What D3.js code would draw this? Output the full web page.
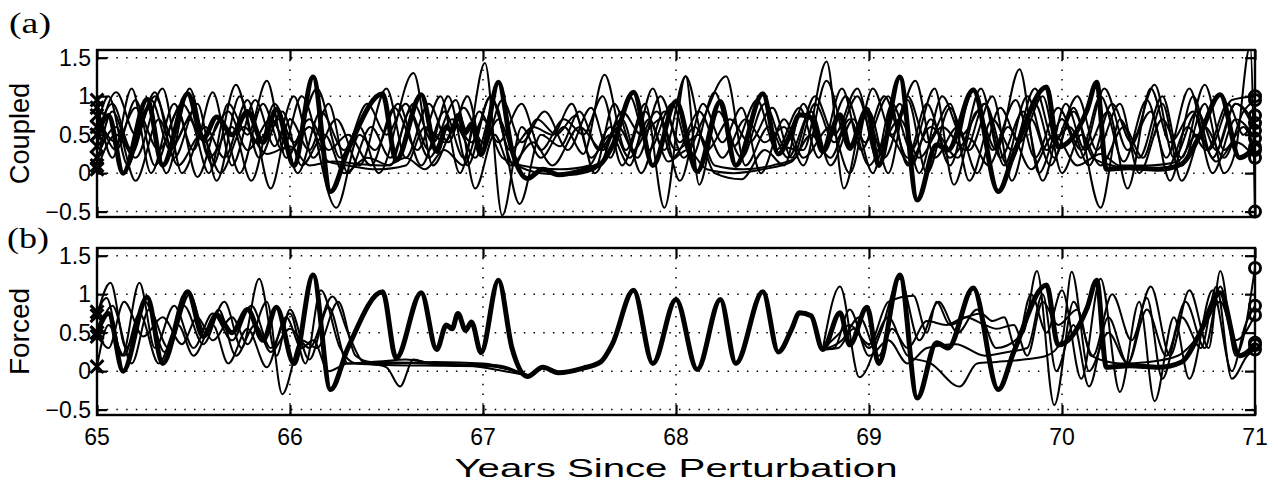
<!DOCTYPE html>
<html>
<head>
<meta charset="utf-8">
<script src="https://cdn.jsdelivr.net/npm/d3@7"></script>
<style>
  body { margin: 0; background: #fff; }
  svg { display: block; }
  text { font-family: "Liberation Sans", Arial, sans-serif; fill: #000; }
</style>
</head>
<body>
<div id="chart"></div>
<script>
// ---- data (years since perturbation, value) ----
const xTicks = [65, 66, 67, 68, 69, 70, 71];
const yTicks = [-0.5, 0, 0.5, 1, 1.5];

// thick run, shared by both panels
const thickRun = [[65.00,0.5],[65.06,0.75],[65.135,0.0],[65.26,0.96],[65.34,0.1],[65.47,1.03],[65.55,0.45],[65.62,0.73],[65.7,0.5],[65.78,0.8],[65.86,0.4],[65.93,0.83],[66.02,0.1],[66.12,1.25],[66.21,-0.24],[66.3,0.3],[66.48,1.03],[66.55,0.17],[66.68,1.02],[66.76,0.28],[66.81,0.6],[66.84,0.55],[66.87,0.75],[66.91,0.53],[66.94,0.64],[66.99,0.24],[67.08,1.18],[67.15,0.3],[67.23,-0.07],[67.31,0.05],[67.39,-0.02],[67.52,0.04],[67.61,0.12],[67.67,0.35],[67.78,1.05],[67.88,0.1],[68.0,0.93],[68.11,0.02],[68.23,0.93],[68.31,0.1],[68.45,1.03],[68.53,0.25],[68.6,0.55],[68.64,0.76],[68.7,0.72],[68.76,0.28],[68.85,0.76],[68.9,0.34],[68.99,0.83],[69.05,0.1],[69.16,1.25],[69.25,-0.35],[69.35,0.37],[69.41,0.3],[69.54,1.08],[69.67,-0.24],[69.75,0.25],[69.92,1.12],[69.98,0.34],[70.13,0.82],[70.18,1.18],[70.23,0.05],[70.35,0.07],[70.5,0.05],[70.62,0.12],[70.71,0.47],[70.82,1.02],[70.92,0.2],[71.0,0.34]];

const coupledRuns = [
  [[65,0.95],[65.08,0.2],[65.18,1.1],[65.28,0.0],[65.4,0.9],[65.5,0.3],[65.6,1.05],[65.7,0.1],[65.82,0.95],[65.92,0.35],[66.02,1.0],[66.12,0.2],[66.24,0.7],[66.36,0.1],[66.5,1.1],[66.6,0.2],[66.72,0.9],[66.82,0.4],[66.92,1.0],[67.0,0.3],[67.1,0.95],[67.2,0.4],[67.32,0.8],[67.44,0.3],[67.56,0.85],[67.66,0.2],[67.76,1.0],[67.86,0.3],[67.98,0.9],[68.08,0.2],[68.2,1.05],[68.3,0.35],[68.42,0.95],[68.52,0.3],[68.64,0.85],[68.74,0.2],[68.86,1.1],[68.96,0.3],[69.08,1.0],[69.2,0.2],[69.3,0.9],[69.42,0.1],[69.54,1.1],[69.64,0.3],[69.76,0.95],[69.86,0.2],[69.98,0.85],[70.1,0.3],[70.2,1.0],[70.32,0.15],[70.44,0.95],[70.54,0.2],[70.66,1.1],[70.76,0.3],[70.88,0.95],[71,1.0]],
  [[65,0.85],[65.1,0.3],[65.2,0.95],[65.3,0.1],[65.42,0.8],[65.52,-0.05],[65.64,0.7],[65.74,0.0],[65.86,0.9],[65.96,0.3],[66.06,1.0],[66.24,-0.45],[66.36,0.5],[66.44,0.3],[66.56,0.9],[66.68,0.1],[66.8,0.8],[66.9,0.2],[67.01,1.43],[67.1,-0.55],[67.2,0.6],[67.3,0.2],[67.42,0.6],[67.52,0.25],[67.63,1.28],[67.74,0.3],[67.84,0.9],[67.94,-0.45],[68.05,1.26],[68.12,-0.15],[68.22,0.8],[68.34,0.2],[68.46,0.9],[68.56,0.35],[68.66,0.3],[68.78,1.45],[68.87,-0.2],[68.98,0.8],[69.08,0.2],[69.2,0.95],[69.3,0.0],[69.42,0.85],[69.52,0.3],[69.64,1.0],[69.74,-0.1],[69.86,0.9],[69.96,0.2],[70.06,0.85],[70.2,-0.45],[70.3,0.7],[70.4,0.2],[70.52,1.0],[70.62,0.1],[70.74,0.9],[70.84,0.0],[70.9,0.3],[70.975,1.65],[71,-0.5]],
  [[65,0.75],[65.1,0.4],[65.2,0.85],[65.32,0.3],[65.44,0.9],[65.56,0.4],[65.68,0.8],[65.78,0.3],[65.9,0.7],[66.0,0.3],[66.1,0.6],[66.2,0.15],[66.3,0.1],[66.45,0.05],[66.6,0.1],[66.7,0.6],[66.8,0.4],[66.9,0.85],[67.0,0.4],[67.08,0.7],[67.18,0.1],[67.3,0.0],[67.45,-0.02],[67.58,0.05],[67.68,0.9],[67.78,0.3],[67.9,0.8],[68.0,0.3],[68.12,0.5],[68.2,0.1],[68.35,0.05],[68.5,0.1],[68.62,0.2],[68.72,0.9],[68.82,0.4],[68.94,1.0],[69.04,0.3],[69.16,0.7],[69.26,0.2],[69.38,0.6],[69.5,0.3],[69.6,0.9],[69.72,0.1],[69.84,0.7],[69.94,0.1],[70.06,0.8],[70.16,0.2],[70.26,0.1],[70.4,0.05],[70.55,0.08],[70.65,0.6],[70.75,0.3],[70.86,0.9],[70.94,0.5],[71,0.75]],
  [[65,0.6],[65.06,1.0],[65.16,0.1],[65.26,0.85],[65.36,0.0],[65.48,1.1],[65.58,0.2],[65.7,0.6],[65.8,-0.1],[65.92,0.9],[66.02,0.4],[66.14,1.1],[66.26,0.2],[66.36,0.6],[66.46,0.0],[66.64,1.3],[66.74,0.1],[66.86,0.6],[66.96,0.2],[67.06,0.9],[67.19,-0.4],[67.3,0.5],[67.4,0.35],[67.5,0.8],[67.6,0.3],[67.72,0.7],[67.82,0.0],[67.94,0.8],[68.04,0.2],[68.14,0.7],[68.26,1.26],[68.36,0.1],[68.48,0.6],[68.58,0.2],[68.7,0.8],[68.8,0.1],[68.92,0.7],[69.02,0.0],[69.12,0.9],[69.22,0.3],[69.34,1.1],[69.44,-0.15],[69.56,0.8],[69.66,0.3],[69.78,1.35],[69.88,0.0],[70.0,0.7],[70.1,0.2],[70.22,1.1],[70.34,0.3],[70.46,0.8],[70.56,-0.1],[70.68,1.0],[70.78,0.2],[70.9,0.9],[71,0.55]],
  [[65,0.5],[65.08,0.9],[65.18,0.3],[65.3,1.05],[65.4,0.2],[65.52,0.9],[65.62,-0.1],[65.74,1.0],[65.84,0.2],[65.96,0.8],[66.06,0.1],[66.18,0.5],[66.28,0.0],[66.4,0.2],[66.52,0.1],[66.62,0.8],[66.72,0.3],[66.82,1.0],[66.92,0.1],[67.04,1.0],[67.14,0.3],[67.26,0.6],[67.36,0.5],[67.46,0.9],[67.56,0.2],[67.66,0.5],[67.76,0.1],[67.88,1.1],[67.98,0.2],[68.1,0.6],[68.2,0.0],[68.34,-0.08],[68.46,0.3],[68.56,0.1],[68.66,0.9],[68.76,0.3],[68.88,1.0],[68.98,0.4],[69.1,1.0],[69.2,0.1],[69.32,0.6],[69.46,0.2],[69.58,1.1],[69.68,0.2],[69.8,0.8],[69.9,-0.1],[70.02,0.9],[70.12,0.3],[70.24,0.8],[70.34,-0.2],[70.46,1.1],[70.56,0.4],[70.68,0.8],[70.78,0.0],[70.9,0.7],[71,0.45]],
  [[65,0.35],[65.1,1.05],[65.2,0.5],[65.3,1.0],[65.4,0.4],[65.5,0.8],[65.6,0.1],[65.72,1.15],[65.82,0.4],[65.94,0.7],[66.04,0.0],[66.16,0.8],[66.28,0.3],[66.4,0.9],[66.5,0.5],[66.6,0.9],[66.72,0.2],[66.84,0.7],[66.94,0.4],[67.04,1.0],[67.16,0.1],[67.28,0.7],[67.38,0.5],[67.48,0.75],[67.58,0.0],[67.7,0.6],[67.8,0.2],[67.92,1.0],[68.02,0.4],[68.12,0.8],[68.24,0.2],[68.36,0.7],[68.46,0.4],[68.56,0.6],[68.66,0.1],[68.78,1.2],[68.9,0.3],[69.0,0.8],[69.1,0.0],[69.2,1.0],[69.3,0.4],[69.42,0.9],[69.52,-0.1],[69.64,0.7],[69.74,0.3],[69.86,1.1],[69.96,0.4],[70.08,1.0],[70.18,0.3],[70.3,0.9],[70.4,0.0],[70.52,0.7],[70.62,0.2],[70.74,1.15],[70.84,0.3],[70.94,0.6],[71,0.3]],
  [[65,0.2],[65.1,0.6],[65.2,-0.1],[65.32,0.7],[65.42,0.1],[65.54,0.5],[65.64,0.0],[65.76,0.6],[65.88,0.25],[66.0,0.35],[66.1,0.1],[66.22,0.15],[66.35,0.12],[66.5,0.1],[66.6,0.2],[66.7,0.05],[66.8,0.3],[66.9,0.1],[67.0,0.7],[67.1,0.2],[67.2,0.1],[67.4,0.05],[67.55,0.1],[67.66,0.6],[67.76,0.2],[67.86,0.7],[67.96,0.15],[68.06,0.3],[68.16,0.05],[68.3,0.0],[68.45,0.05],[68.6,0.15],[68.7,0.5],[68.8,0.2],[68.9,0.7],[69.0,0.1],[69.1,0.5],[69.22,0.1],[69.32,0.7],[69.42,0.2],[69.52,0.45],[69.62,0.1],[69.72,0.6],[69.84,0.05],[69.96,0.5],[70.08,0.1],[70.2,0.25],[70.3,0.1],[70.45,0.1],[70.6,0.15],[70.7,0.5],[70.8,0.15],[70.9,0.4],[71,0.2]],
  [[65,0.1],[65.08,0.8],[65.18,0.25],[65.28,0.95],[65.38,0.3],[65.48,0.7],[65.58,0.0],[65.68,0.9],[65.78,0.5],[65.88,1.2],[65.98,0.2],[66.1,0.7],[66.2,0.3],[66.3,0.5],[66.42,0.1],[66.54,0.85],[66.66,0.3],[66.78,1.0],[66.88,0.0],[66.98,0.8],[67.08,0.4],[67.2,0.9],[67.3,0.3],[67.42,0.7],[67.52,0.5],[67.62,1.0],[67.72,0.1],[67.84,0.8],[67.94,0.3],[68.05,1.26],[68.16,0.3],[68.28,0.7],[68.38,0.4],[68.5,0.85],[68.6,0.2],[68.72,1.0],[68.82,0.5],[68.94,1.1],[69.04,0.2],[69.16,0.9],[69.26,0.0],[69.38,1.0],[69.48,0.5],[69.6,0.9],[69.7,0.1],[69.82,1.0],[69.92,0.3],[70.04,0.6],[70.14,0.1],[70.26,0.9],[70.36,0.4],[70.48,1.15],[70.58,0.2],[70.7,0.8],[70.8,0.3],[70.9,0.9],[71,0.65]],
  [[65,0.05],[65.1,0.5],[65.2,0.2],[65.34,1.1],[65.44,0.0],[65.56,0.6],[65.66,0.2],[65.78,0.95],[65.9,-0.2],[66.0,0.7],[66.1,0.3],[66.2,0.9],[66.3,0.0],[66.42,0.6],[66.52,0.2],[66.64,0.9],[66.74,0.4],[66.86,0.95],[66.96,-0.2],[67.06,0.5],[67.14,0.1],[67.26,0.4],[67.36,0.1],[67.5,0.6],[67.62,0.3],[67.72,0.8],[67.82,0.5],[67.92,0.7],[68.02,-0.1],[68.14,0.9],[68.24,0.4],[68.34,0.85],[68.44,0.0],[68.56,0.7],[68.66,0.2],[68.8,0.6],[68.9,0.0],[69.02,1.1],[69.12,0.5],[69.24,1.2],[69.34,0.2],[69.46,0.6],[69.56,0.0],[69.68,0.85],[69.78,0.4],[69.9,1.0],[70.0,0.0],[70.1,0.5],[70.2,0.1],[70.32,0.6],[70.42,0.2],[70.52,0.9],[70.62,-0.1],[70.74,0.6],[70.84,0.2],[70.94,0.8],[71,0.95]]
];

// forced runs: null marks the stretch hidden under the thick run
const forcedRuns = [
  [[65,0.77],[65.05,0.95],[65.13,0.2],[65.22,1.15],[65.3,0.3],[65.4,0.85],[65.5,0.3],[65.6,0.75],[65.7,0.4],[65.8,0.85],[65.9,0.3],[66.0,0.75],[66.08,0.1],[66.16,1.05],[66.26,0.3],[66.34,0.1],[66.5,0.08],[66.8,0.07],[67.05,0.06],[67.23,-0.05],[67.3,null],
   [68.76,0.28],[68.85,1.1],[68.95,-0.08],[69.06,0.5],[69.16,1.2],[69.26,0.4],[69.36,0.9],[69.46,0.5],[69.56,0.8],[69.66,0.3],[69.8,0.5],[69.87,1.3],[69.96,-0.44],[70.06,0.9],[70.16,0.2],[70.26,1.0],[70.36,0.4],[70.46,1.1],[70.56,0.2],[70.66,1.05],[70.76,0.3],[70.82,1.3],[70.9,0.2],[71,1.34]],
  [[65,0.72],[65.07,1.15],[65.15,0.3],[65.25,0.9],[65.35,0.25],[65.45,0.85],[65.55,0.35],[65.66,0.9],[65.75,0.3],[65.84,1.2],[65.93,0.2],[66.0,0.8],[66.1,0.15],[66.2,0.83],[66.3,0.1],[66.45,0.12],[66.7,0.1],[67.0,0.08],[67.23,-0.05],[67.3,null],
   [68.76,0.28],[68.83,0.45],[68.9,0.6],[69.0,0.35],[69.1,0.9],[69.23,0.98],[69.3,0.5],[69.35,0.9],[69.42,0.6],[69.5,0.7],[69.58,0.75],[69.64,0.65],[69.7,0.7],[69.76,0.3],[69.84,1.0],[69.92,0.5],[70.0,1.05],[70.1,-0.1],[70.2,1.2],[70.3,-0.27],[70.4,0.9],[70.48,-0.39],[70.58,0.7],[70.66,-0.1],[70.78,1.05],[70.88,0.0],[70.95,0.6],[71,0.85]],
  [[65,0.45],[65.08,0.85],[65.18,0.1],[65.27,0.8],[65.37,0.3],[65.48,1.0],[65.56,0.5],[65.63,0.8],[65.72,0.2],[65.82,0.6],[65.9,0.25],[66.0,0.55],[66.1,0.3],[66.22,0.97],[66.3,0.5],[66.38,0.12],[66.5,0.05],[66.57,-0.2],[66.64,0.15],[66.72,0.1],[66.85,0.08],[67.05,0.08],[67.23,-0.06],[67.3,null],
   [68.76,0.28],[68.84,0.3],[68.92,0.55],[69.0,0.3],[69.1,0.7],[69.2,0.2],[69.32,0.1],[69.47,-0.2],[69.56,0.1],[69.66,0.12],[69.8,0.15],[69.92,0.2],[70.0,0.4],[70.05,1.29],[70.14,0.0],[70.24,0.5],[70.34,0.1],[70.44,0.8],[70.54,0.2],[70.64,0.9],[70.74,0.3],[70.82,1.1],[70.9,0.4],[71,0.73]],
  [[65,0.5],[65.06,0.3],[65.14,0.9],[65.24,0.45],[65.34,0.7],[65.44,0.35],[65.52,0.7],[65.6,0.4],[65.7,0.7],[65.78,0.35],[65.88,0.9],[65.96,-0.3],[66.06,0.4],[66.14,0.3],[66.25,0.9],[66.34,0.2],[66.42,0.12],[66.6,0.15],[66.75,0.1],[66.9,0.08],[67.23,-0.06],[67.3,null],
   [68.76,0.28],[68.86,0.4],[68.95,0.7],[69.05,0.2],[69.12,0.55],[69.2,0.3],[69.3,0.65],[69.4,0.6],[69.5,0.7],[69.6,0.6],[69.66,0.55],[69.75,0.6],[69.82,0.2],[69.9,0.9],[69.98,0.6],[70.08,0.8],[70.15,0.2],[70.3,0.1],[70.45,0.12],[70.6,0.2],[70.72,0.5],[70.82,0.9],[70.92,0.2],[71,0.37]],
  [[65,0.06],[65.06,0.6],[65.14,0.2],[65.22,0.75],[65.32,0.1],[65.42,0.6],[65.5,0.2],[65.6,0.6],[65.68,0.1],[65.78,0.55],[65.88,0.05],[65.98,0.7],[66.06,0.3],[66.12,0.4],[66.2,0.0],[66.3,0.1],[66.5,0.1],[66.75,0.12],[67.0,0.1],[67.23,-0.06],[67.3,null],
   [68.76,0.28],[68.82,0.3],[68.9,0.8],[69.0,0.2],[69.1,0.4],[69.2,0.1],[69.3,0.3],[69.45,0.35],[69.6,0.2],[69.72,0.25],[69.82,0.3],[69.9,1.0],[69.97,0.0],[70.06,0.6],[70.14,-0.2],[70.24,0.7],[70.34,0.1],[70.44,0.95],[70.52,-0.1],[70.62,0.7],[70.72,0.3],[70.8,1.1],[70.88,-0.1],[70.96,0.2],[71,0.28]]
];

const W = 1278, H = 481;
const svg = d3.select("#chart").append("svg")
    .attr("width", W)
    .attr("height", H);

let x = d3.scaleLinear().domain([65, 71]).range([97, 1255]);

function drawPanel(top, bottom, runs, tag, ylabel, showX) {
    let y = d3.scaleLinear().domain([-0.57, 1.6]).range([bottom, top]);
    let g = svg.append("g");

    g.append("clipPath").attr("id", "clip" + tag)
      .append("rect")
        .attr("x", x(65)).attr("y", top)
        .attr("width", x(71) - x(65)).attr("height", bottom - top);

    // dotted grid
    g.selectAll(".hgrid").data(yTicks).enter().append("line")
        .attr("x1", x(65)).attr("x2", x(71))
        .attr("y1", d => y(d)).attr("y2", d => y(d))
        .style("stroke", "#000").style("stroke-width", 1.5)
        .style("stroke-dasharray", "1.5,8.2");
    g.selectAll(".vgrid").data(xTicks.slice(1, -1)).enter().append("line")
        .attr("x1", d => x(d)).attr("x2", d => x(d))
        .attr("y1", top).attr("y2", bottom)
        .style("stroke", "#000").style("stroke-width", 1.5)
        .style("stroke-dasharray", "1.5,8.2");

    let line = d3.line()
        .defined(d => d[1] !== null)
        .x(d => x(d[0]))
        .y(d => y(d[1]))
        .curve(d3.curveMonotoneX);

    let lines = g.append("g").attr("clip-path", "url(#clip" + tag + ")");
    lines.selectAll(".thin").data(runs).enter().append("path")
        .attr("d", line)
        .style("fill", "none").style("stroke", "#000").style("stroke-width", 2);
    lines.append("path").datum(thickRun)
        .attr("d", line)
        .style("fill", "none").style("stroke", "#000").style("stroke-width", 5)
        .style("stroke-linejoin", "round");

    // end markers: x at start, o at end
    let all = runs.concat([thickRun]);
    let cross = d3.symbol().type(d3.symbolTimes || d3.symbolCross).size(110);
    g.selectAll(".start").data(all).enter().append("path")
        .attr("d", cross)
        .attr("transform", d => "translate(" + x(d[0][0]) + "," + y(d[0][1]) + ")")
        .style("fill", "none").style("stroke", "#000").style("stroke-width", 3);
    g.selectAll(".end").data(all).enter().append("circle")
        .attr("cx", d => x(d[d.length - 1][0]))
        .attr("cy", d => y(Math.min(d[d.length - 1][1], 1.55)))
        .attr("r", 5.5)
        .style("fill", "none").style("stroke", "#000").style("stroke-width", 3);

    // axes, ticks inside on every side
    let yl = g.append("g").attr("transform", "translate(" + x(65) + ",0)")
        .call(d3.axisRight(y).tickValues(yTicks).tickSize(10).tickFormat(""));
    let yr = g.append("g").attr("transform", "translate(" + x(71) + ",0)")
        .call(d3.axisLeft(y).tickValues(yTicks).tickSize(10).tickFormat(""));
    let xt = g.append("g").attr("transform", "translate(0," + top + ")")
        .call(d3.axisBottom(x).tickValues(xTicks).tickSize(10).tickFormat(""));
    let xb = g.append("g").attr("transform", "translate(0," + bottom + ")")
        .call(d3.axisTop(x).tickValues(xTicks).tickSize(10).tickFormat(""));
    [yl, yr, xt, xb].forEach(a => {
        a.select(".domain").remove();
        a.selectAll("line").style("stroke", "#000").style("stroke-width", 2.2);
    });
    g.append("rect")
        .attr("x", x(65)).attr("y", top)
        .attr("width", x(71) - x(65)).attr("height", bottom - top)
        .style("fill", "none").style("stroke", "#000").style("stroke-width", 2.4);

    // tick labels
    g.selectAll(".ylab").data(yTicks).enter().append("text")
        .attr("x", x(65) - 6).attr("y", d => y(d) + 8)
        .attr("text-anchor", "end")
        .attr("font-size", 23)
        .text(d => d < 0 ? "\u2212" + Math.abs(d) : d);
    if (showX) {
        g.selectAll(".xlab").data(xTicks).enter().append("text")
            .attr("x", d => x(d)).attr("y", bottom + 30)
            .attr("text-anchor", "middle")
            .attr("font-size", 23)
            .text(d => d);
    }

    g.append("text")
        .attr("transform", "translate(29," + ((top + bottom) / 2) + ") rotate(-90)")
        .attr("text-anchor", "middle")
        .attr("font-size", 27)
        .attr("textLength", ylabel.length * 14.5)
        .attr("lengthAdjust", "spacingAndGlyphs")
        .text(ylabel);
}

drawPanel(50, 217, coupledRuns, "a", "Coupled", false);
drawPanel(248, 415, forcedRuns, "b", "Forced", true);

svg.append("text").attr("x", 9).attr("y", 33)
    .style("font-family", "'Liberation Serif', 'Times New Roman', serif")
    .attr("font-size", 30)
    .attr("textLength", 42).attr("lengthAdjust", "spacingAndGlyphs")
    .text("(a)");
svg.append("text").attr("x", 7).attr("y", 248)
    .style("font-family", "'Liberation Serif', 'Times New Roman', serif")
    .attr("font-size", 30)
    .attr("textLength", 42).attr("lengthAdjust", "spacingAndGlyphs")
    .text("(b)");

svg.append("text")
    .attr("x", x(68)).attr("y", 477)
    .attr("text-anchor", "middle")
    .attr("font-size", 25)
    .attr("textLength", 443)
    .attr("lengthAdjust", "spacingAndGlyphs")
    .text("Years Since Perturbation");
</script>
</body>
</html>
